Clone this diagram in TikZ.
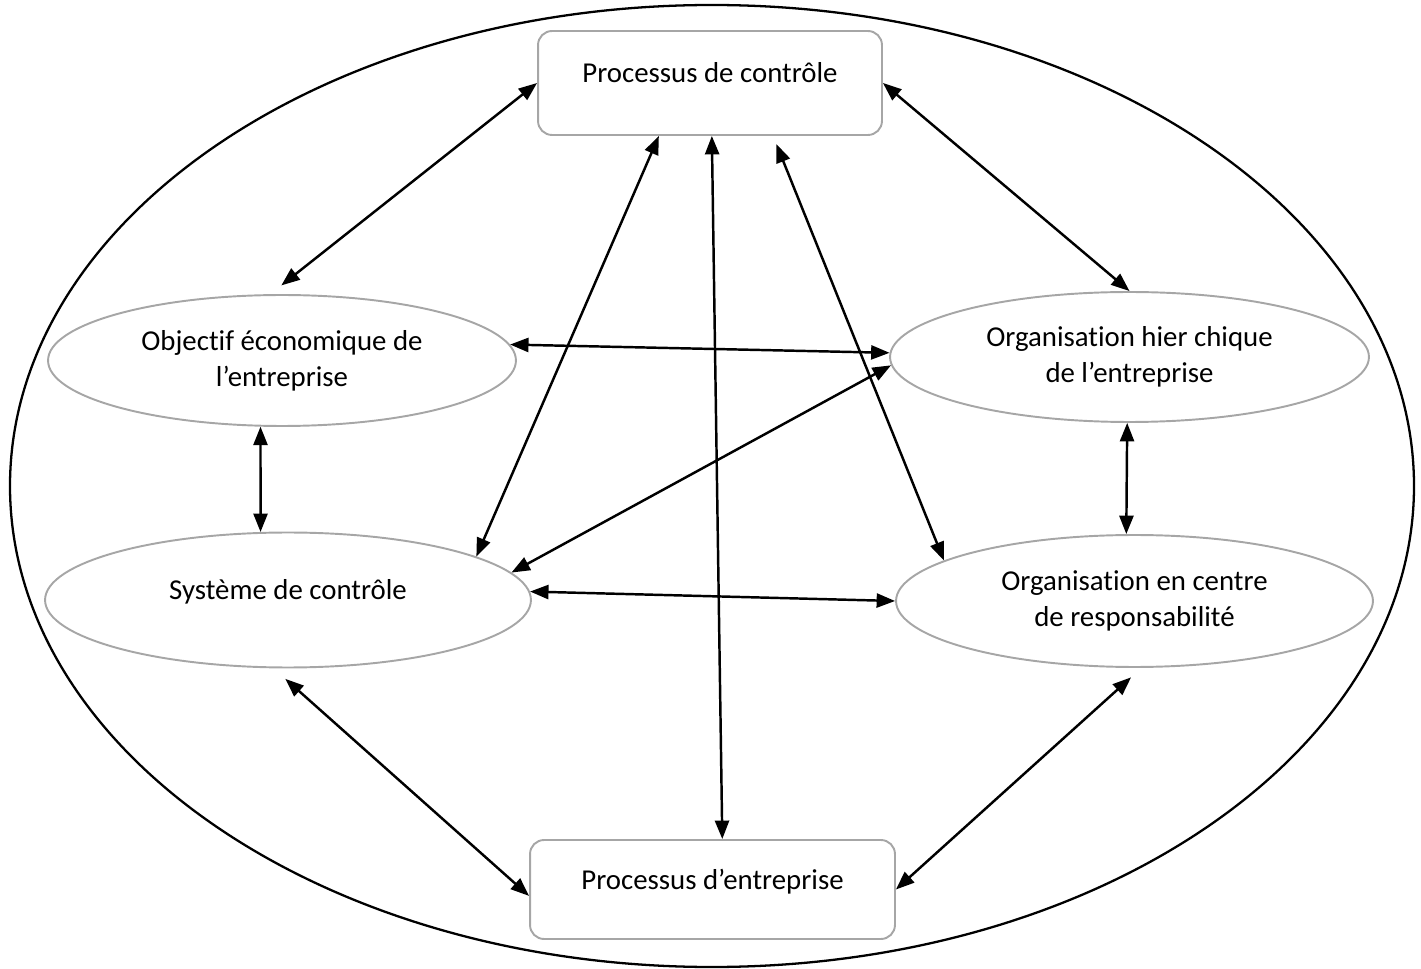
\documentclass[tikz,border=0pt]{standalone}
\usepackage{fontspec}
\setmainfont{Carlito}[Ligatures=NoCommon]
\usetikzlibrary{arrows.meta,shapes.geometric}
\definecolor{bord}{RGB}{166,166,166}

\begin{document}
\begin{tikzpicture}[x=0.02cm,y=-0.02cm,
  font=\fontsize{16.4}{20.4}\selectfont,
  >={Triangle[length=10.5pt,width=8pt]},
  boite/.style={draw=bord,line width=1.1pt,rounded corners=8pt,inner sep=0pt,
    text height=11pt,text depth=11pt},
  bulle/.style={draw=bord,line width=1.1pt,ellipse,inner sep=0pt,align=center},
  fleche/.style={<->,line width=1.4pt}]
  \useasboundingbox (0,0) rectangle (1421,969);
  \draw[line width=1.3pt] (712,486) ellipse [x radius=702, y radius=481];
  \node[boite,minimum width=6.88cm,minimum height=2.08cm] (pc) at (710,83)
    {Processus de contrôle};
  \node[boite,minimum width=7.3cm,minimum height=1.98cm] (pe) at (712.5,889.5)
    {Processus d’entreprise};
  \node[bulle,minimum width=9.36cm,minimum height=2.62cm] (obj) at (282,360.5)
    {Objectif économique de\\l’entreprise};
  \node[bulle,minimum width=9.58cm,minimum height=2.6cm] (org) at (1129.5,357)
    {Organisation hier chique\\de l’entreprise};
  \node[bulle,minimum width=9.72cm,minimum height=2.7cm,text depth=12.3pt] (sys)
    at (288,600) {Système de contrôle};
  \node[bulle,minimum width=9.54cm,minimum height=2.64cm] (resp) at (1134.5,601)
    {Organisation en centre\\de responsabilité};
  \draw[fleche,shorten >=8pt] (pc.west) -- (obj.100);
  \draw[fleche] (pc.226) -- (sys.13);
  \draw[fleche] (pc.272) -- (pe.79);
  \draw[fleche,shorten <=5pt] (pc.320) -- (resp.168);
  \draw[fleche] (pc.east) -- (org.north);
  \draw[fleche] (obj.4) -- (org.179);
  \draw[fleche] (org.182) -- (sys.7);
  \draw[fleche] (obj.252) -- (sys.112);
  \draw[fleche] (org.268) -- (resp.97);
  \draw[fleche] (sys.2) -- (resp.180);
  \draw[fleche,shorten <=9pt] (sys.258) -- (pe.182);
  \draw[fleche,shorten >=8pt] (pe.east) -- (resp.276);
\end{tikzpicture}
\end{document}
